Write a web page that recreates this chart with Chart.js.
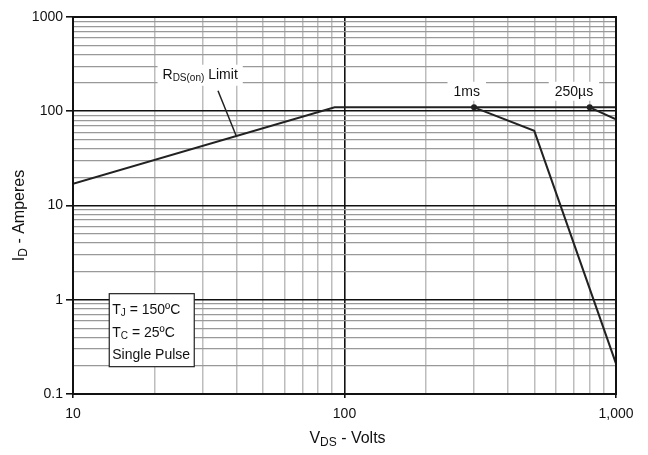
<!DOCTYPE html>
<html>
<head>
<meta charset="utf-8">
<script src="https://cdn.jsdelivr.net/npm/chart.js@4"></script>
<style>
  html, body { margin: 0; padding: 0; background: #fff; }
  #wrap { width: 648px; height: 455px; position: relative; }
</style>
</head>
<body>
<div id="wrap"><canvas id="soa"></canvas></div>
<script>
// safe operating area curves (V_DS in volts, I_D in amperes)
const rdsVolts = [10, 92, 1000]
const rdsAmps = [17, 110, 110]

const pulse1msVolts = [300, 500, 1000]
const pulse1msAmps = [110, 62, 0.21]

const pulse250usVolts = [800, 1000]
const pulse250usAmps = [110, 82]

const xTickValues = [10, 100, 1000]
const xTickLabels = ['10', '100', '1,000']
const yTickValues = [0.1, 1, 10, 100, 1000]
const yTickLabels = ['0.1', '1', '10', '100', '1000']

const FAMILY = '"Liberation Sans", Arial, sans-serif'
const TEXT_COLOR = '#111'

function toPoints(xs, ys) {
  return xs.map((x, i) => ({ x, y: ys[i] }))
}

function isDecade(v) {
  const l = Math.log10(v)
  return Math.abs(l - Math.round(l)) < 1e-6
}

// 1..9 x 10^n grid for a log axis
function logGridTicks(min, max) {
  const ticks = []
  for (let e = Math.floor(Math.log10(min)); e <= Math.ceil(Math.log10(max)); e++) {
    for (let m = 1; m <= 9; m++) {
      const v = +(m * Math.pow(10, e)).toPrecision(6)
      if (v >= min * 0.999 && v <= max * 1.001) ticks.push({ value: v })
    }
  }
  return ticks
}

function labelFor(values, labels, v) {
  const i = values.findIndex(t => Math.abs(t - v) / t < 1e-6)
  return i === -1 ? '' : labels[i]
}

// text with subscript parts, size is the base font size
function measureRich(ctx, parts, size) {
  let w = 0
  parts.forEach(p => {
    ctx.font = `${p.sub ? Math.round(size * 0.72) : size}px ${FAMILY}`
    w += ctx.measureText(p.t).width
  })
  return w
}

function drawRich(ctx, parts, x, y, align, size = 14) {
  const w = measureRich(ctx, parts, size)
  let cx = align === 'center' ? x - w / 2 : align === 'right' ? x - w : x
  ctx.textAlign = 'left'
  ctx.textBaseline = 'middle'
  parts.forEach(p => {
    ctx.font = `${p.sub ? Math.round(size * 0.72) : size}px ${FAMILY}`
    ctx.fillText(p.t, cx, y + (p.sub ? size * 0.25 : 0))
    cx += ctx.measureText(p.t).width
  })
  return w
}

const annotations = {
  id: 'annotations',
  afterDatasetsDraw(chart) {
    const { ctx, scales: { x, y }, chartArea } = chart
    const px = v => x.getPixelForValue(v)
    const py = v => y.getPixelForValue(v)

    ctx.save()

    // R_DS(on) limit label with leader to the curve
    const rLabel = [{ t: 'R' }, { t: 'DS(on)', sub: true }, { t: ' Limit' }]
    const rw = measureRich(ctx, rLabel, 14)
    ctx.fillStyle = '#fff'
    ctx.fillRect(px(29.4) - rw / 2 - 5, py(244) - 10, rw + 10, 21)
    ctx.fillStyle = TEXT_COLOR
    drawRich(ctx, rLabel, px(29.4), py(244), 'center')
    ctx.strokeStyle = '#222'
    ctx.lineWidth = 1.5
    ctx.beginPath()
    ctx.moveTo(px(34.2), py(165))
    ctx.lineTo(px(40), py(54))
    ctx.stroke()

    // pulse width labels
    ;[[282, '1ms'], [700, '250µs']].forEach(([v, t]) => {
      const w = measureRich(ctx, [{ t }], 14)
      ctx.fillStyle = '#fff'
      ctx.fillRect(px(v) - w / 2 - 6, py(161) - 10, w + 12, 19)
      ctx.fillStyle = TEXT_COLOR
      drawRich(ctx, [{ t }], px(v), py(161), 'center')
    })

    // conditions box
    const bx = px(13.6), by = py(1.16)
    ctx.fillStyle = '#fff'
    ctx.fillRect(bx, by, 85, 73)
    ctx.strokeStyle = '#222'
    ctx.lineWidth = 1.2
    ctx.strokeRect(bx, by, 85, 73)
    ctx.fillStyle = TEXT_COLOR
    drawRich(ctx, [{ t: 'T' }, { t: 'J', sub: true }, { t: ' = 150ºC' }], bx + 3, by + 16, 'left', 14)
    drawRich(ctx, [{ t: 'T' }, { t: 'C', sub: true }, { t: ' = 25ºC' }], bx + 3, by + 39, 'left', 14)
    drawRich(ctx, [{ t: 'Single Pulse' }], bx + 3, by + 61, 'left', 14)

    // frame
    ctx.strokeStyle = '#111'
    ctx.lineWidth = 2
    ctx.strokeRect(chartArea.left, chartArea.top, chartArea.width, chartArea.height)

    // axis titles
    ctx.fillStyle = TEXT_COLOR
    drawRich(ctx, [{ t: 'V' }, { t: 'DS', sub: true }, { t: ' - Volts' }], px(100) + 3, 439, 'center', 16)
    ctx.translate(20, py(10) + 10)
    ctx.rotate(-Math.PI / 2)
    drawRich(ctx, [{ t: 'I' }, { t: 'D', sub: true }, { t: ' - Amperes' }], 0, 0, 'center', 16)
    ctx.restore()
  }
}

const lineStyle = {
  showLine: true,
  borderColor: '#222',
  borderWidth: 2,
  backgroundColor: '#222',
  pointRadius: 0,
  tension: 0
}

new Chart(document.getElementById('soa'), {
  type: 'scatter',
  data: {
    datasets: [
      { label: 'RDS(on) Limit', data: toPoints(rdsVolts, rdsAmps), ...lineStyle },
      { label: '1ms', data: toPoints(pulse1msVolts, pulse1msAmps), ...lineStyle, pointRadius: [2, 0, 0] },
      { label: '250us', data: toPoints(pulse250usVolts, pulse250usAmps), ...lineStyle, pointRadius: [2, 0] }
    ]
  },
  options: {
    responsive: true,
    maintainAspectRatio: false,
    animation: false,
    layout: { padding: { top: 17, right: 32, left: 0, bottom: 0 } },
    plugins: {
      legend: { display: false },
      tooltip: { enabled: false }
    },
    scales: {
      x: {
        type: 'logarithmic',
        min: 10,
        max: 1000,
        afterBuildTicks: scale => { scale.ticks = logGridTicks(10, 1000) },
        afterFit: scale => { scale.height = 61 },
        border: { display: false },
        grid: {
          color: c => c.tick && isDecade(c.tick.value) ? '#111' : '#bdbdbd',
          lineWidth: c => c.tick && isDecade(c.tick.value) ? 1.6 : 1.5,
          tickColor: c => c.tick && isDecade(c.tick.value) ? '#111' : 'rgba(0,0,0,0)',
          tickLength: 4
        },
        ticks: {
          autoSkip: false,
          maxRotation: 0,
          padding: 8,
          color: TEXT_COLOR,
          font: { family: FAMILY, size: 14 },
          callback: v => labelFor(xTickValues, xTickLabels, v)
        }
      },
      y: {
        type: 'logarithmic',
        min: 0.1,
        max: 1000,
        afterBuildTicks: scale => { scale.ticks = logGridTicks(0.1, 1000) },
        afterFit: scale => { scale.width = 73 },
        border: { display: false },
        grid: {
          color: c => c.tick && isDecade(c.tick.value) ? '#111' : '#999',
          lineWidth: c => c.tick && isDecade(c.tick.value) ? 1.6 : 1.2,
          tickColor: c => c.tick && isDecade(c.tick.value) ? '#111' : 'rgba(0,0,0,0)',
          tickLength: 7
        },
        ticks: {
          autoSkip: false,
          padding: 3,
          color: TEXT_COLOR,
          font: { family: FAMILY, size: 14 },
          callback: v => labelFor(yTickValues, yTickLabels, v)
        }
      }
    }
  },
  plugins: [annotations]
})
</script>
</body>
</html>
